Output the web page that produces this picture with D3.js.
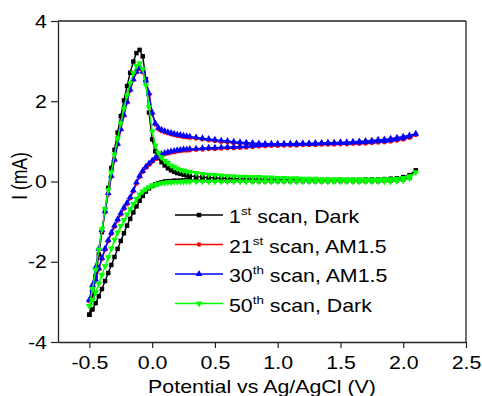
<!DOCTYPE html>
<html>
<head>
<meta charset="utf-8">
<script src="https://cdn.jsdelivr.net/npm/d3@7"></script>
<style>
  html, body { margin: 0; padding: 0; background: #fff; }
  svg { display: block; }
  text { font-family: "Liberation Sans", Arial, Helvetica, sans-serif; fill: #000; }
</style>
</head>
<body>
<svg id="chart" width="482" height="396"></svg>
<script>
// Sweep potentials (V vs Ag/AgCl): anodic sweep, then the return sweep
const potentialFwd = [-0.5,-0.475,-0.45,-0.425,-0.4,-0.375,-0.35,-0.325,-0.3,-0.275,-0.25,-0.225,-0.2,-0.175,-0.15,-0.125,-0.1,-0.075,-0.05,-0.025,0,0.025,0.05,0.075,0.1,0.125,0.15,0.175,0.2,0.225,0.25,0.275,0.3,
  0.35,0.4,0.45,0.5,0.55,0.6,0.65,0.7,0.75,0.8,0.85,0.9,0.95,1.0,1.05,1.1,1.15,1.2,1.25,1.3,1.35,1.4,1.45,1.5,1.55,1.6,1.65,1.7,1.75,1.8,1.85,1.9,1.95,2.0,2.05,2.1];
const potentialRev = [2.05,2.0,1.95,1.9,1.85,1.8,1.75,1.7,1.65,1.6,1.55,1.5,1.45,1.4,1.35,1.3,1.25,1.2,1.15,1.1,1.05,1.0,0.95,0.9,0.85,0.8,0.75,0.7,0.65,0.6,0.55,0.5,0.45,0.4,0.35,
  0.3,0.275,0.25,0.225,0.2,0.175,0.15,0.125,0.1,0.075,0.05,0.025,0,-0.025,-0.05,-0.075,-0.1,-0.125,-0.15,-0.175,-0.2,-0.225,-0.25,-0.275,-0.3,-0.325,-0.35,-0.375,-0.4,-0.425,-0.45,-0.475,-0.5];

// Current (mA) for each scan
const scan1Fwd = [-3.32,-2.86,-2.36,-1.82,-1.26,-0.70,-0.16,0.34,0.79,1.22,1.63,2.02,2.38,2.71,2.99,3.20,3.28,3.12,2.55,1.72,1.05,0.75,0.58,0.48,0.40,0.33,0.28,0.24,0.21,0.19,0.17,0.15,0.14,
  0.12,0.11,0.10,0.09,0.08,0.08,0.07,0.07,0.06,0.06,0.06,0.05,0.05,0.05,0.05,0.05,0.04,0.04,0.04,0.04,0.04,0.04,0.04,0.04,0.04,0.04,0.04,0.05,0.05,0.05,0.06,0.07,0.08,0.11,0.16,0.28];
const scan1Rev = [0.10,0.05,0.03,0.02,0.02,0.01,0.01,0.01,0.01,0.01,0.01,0.01,0.01,0.01,0.01,0.01,0.01,0.01,0.01,0.01,0.01,0.01,0.01,0.01,0.01,0.01,0.02,0.02,0.02,0.02,0.02,0.02,0.02,0.03,0.03,
  0.03,0.03,0.03,0.02,0.02,0.02,0.01,0.01,0.0,-0.02,-0.04,-0.07,-0.11,-0.17,-0.25,-0.36,-0.48,-0.62,-0.77,-0.93,-1.10,-1.29,-1.48,-1.68,-1.88,-2.08,-2.28,-2.48,-2.68,-2.86,-3.03,-3.19,-3.32];

const scan21Fwd = [-2.98,-2.60,-2.16,-1.70,-1.23,-0.76,-0.31,0.12,0.53,0.92,1.29,1.64,1.97,2.27,2.53,2.72,2.81,2.72,2.50,2.17,1.69,1.42,1.31,1.26,1.23,1.20,1.18,1.16,1.14,1.13,1.11,1.10,1.09,
  1.07,1.05,1.03,1.01,0.99,0.98,0.96,0.95,0.94,0.93,0.92,0.91,0.91,0.91,0.91,0.91,0.92,0.92,0.92,0.93,0.93,0.94,0.94,0.95,0.95,0.96,0.97,0.98,0.99,1.01,1.02,1.04,1.06,1.09,1.12,1.16];
const scan21Rev = [1.09,1.05,1.02,1.00,0.98,0.97,0.96,0.95,0.94,0.94,0.93,0.93,0.92,0.92,0.92,0.91,0.91,0.91,0.90,0.90,0.90,0.89,0.89,0.88,0.87,0.86,0.85,0.84,0.83,0.83,0.82,0.81,0.81,0.80,0.79,
  0.78,0.77,0.77,0.76,0.75,0.73,0.72,0.70,0.68,0.65,0.61,0.56,0.49,0.42,0.34,0.24,0.11,-0.05,-0.25,-0.42,-0.56,-0.68,-0.82,-0.97,-1.13,-1.30,-1.49,-1.70,-1.93,-2.19,-2.47,-2.73,-2.98];

const scan30Fwd = [-2.95,-2.58,-2.14,-1.68,-1.21,-0.74,-0.29,0.14,0.55,0.94,1.31,1.66,1.99,2.29,2.55,2.74,2.83,2.74,2.52,2.20,1.72,1.45,1.34,1.29,1.26,1.23,1.21,1.19,1.17,1.16,1.14,1.13,1.12,
  1.10,1.08,1.06,1.04,1.02,1.01,0.99,0.98,0.97,0.96,0.95,0.94,0.94,0.94,0.94,0.94,0.95,0.95,0.95,0.96,0.96,0.97,0.97,0.98,0.98,0.99,1.00,1.01,1.02,1.04,1.05,1.07,1.09,1.12,1.15,1.19];
const scan30Rev = [1.12,1.08,1.05,1.03,1.01,1.00,0.99,0.98,0.97,0.97,0.96,0.96,0.95,0.95,0.95,0.94,0.94,0.94,0.93,0.93,0.93,0.92,0.92,0.91,0.90,0.89,0.88,0.87,0.86,0.86,0.85,0.84,0.84,0.83,0.82,
  0.81,0.80,0.80,0.79,0.78,0.76,0.75,0.73,0.71,0.68,0.64,0.59,0.52,0.45,0.37,0.27,0.14,-0.02,-0.22,-0.39,-0.53,-0.65,-0.79,-0.94,-1.10,-1.27,-1.46,-1.67,-1.90,-2.16,-2.44,-2.70,-2.95];

const scan50Fwd = [-3.10,-2.68,-2.20,-1.70,-1.19,-0.69,-0.21,0.24,0.67,1.07,1.45,1.82,2.15,2.45,2.70,2.88,2.95,2.80,2.40,1.85,1.25,0.90,0.72,0.60,0.52,0.46,0.40,0.36,0.32,0.29,0.27,0.25,0.24,
  0.21,0.19,0.17,0.16,0.15,0.14,0.13,0.12,0.12,0.11,0.11,0.10,0.10,0.09,0.09,0.08,0.08,0.07,0.07,0.07,0.06,0.06,0.06,0.06,0.05,0.05,0.05,0.05,0.05,0.05,0.06,0.06,0.07,0.09,0.13,0.23];
const scan50Rev = [0.08,0.03,0.01,0.0,0.0,0.0,0.0,0.0,0.0,0.0,0.0,0.0,0.0,0.0,0.0,0.0,0.0,0.0,0.0,0.0,0.0,0.0,0.0,0.0,0.0,0.0,0.0,0.0,0.0,0.0,0.0,0.0,0.0,0.0,0.0,
  0.0,0.0,0.0,-0.01,-0.01,-0.01,-0.02,-0.02,-0.03,-0.04,-0.06,-0.08,-0.10,-0.14,-0.19,-0.25,-0.32,-0.43,-0.56,-0.69,-0.82,-0.96,-1.11,-1.27,-1.45,-1.67,-1.89,-2.11,-2.33,-2.55,-2.76,-2.95,-3.10];

const xTicks = [-0.5, 0.0, 0.5, 1.0, 1.5, 2.0, 2.5];
const yTicks = [-4, -2, 0, 2, 4];

// Legend text: [number, ordinal suffix, remainder]
const seriesInfo = [
  { num: "1",  sup: "st", rest: " scan, Dark",   color: "#000000", symbol: "square",   fwd: scan1Fwd,  rev: scan1Rev },
  { num: "21", sup: "st", rest: " scan, AM1.5",  color: "#ff0000", symbol: "circle",   fwd: scan21Fwd, rev: scan21Rev },
  { num: "30", sup: "th", rest: " scan, AM1.5",  color: "#0000ff", symbol: "triangle", fwd: scan30Fwd, rev: scan30Rev },
  { num: "50", sup: "th", rest: " scan, Dark",   color: "#00ff00", symbol: "down",     fwd: scan50Fwd, rev: scan50Rev }
];

const svg = d3.select("#chart");
const plotLeft = 58, plotRight = 466, plotTop = 21, plotBottom = 342;
const stretch = "scale(1.22,1)";
const fontSize = "17.5px";
const axisColor = "#222";

const x = d3.scaleLinear().domain([-0.75, 2.5]).range([plotLeft, plotRight]);
const y = d3.scaleLinear().domain([-4, 4]).range([plotBottom, plotTop]);

function symbolPath(kind) {
  if (kind === "square") return d3.symbol(d3.symbolSquare, 20)();
  if (kind === "circle") return d3.symbol(d3.symbolCircle, 16)();
  return d3.symbol(d3.symbolTriangle, 20)();
}
function symbolTransform(kind) {
  return kind === "down" ? " rotate(180)" : "";
}

// Curves: anodic sweep followed by the return sweep
const line = d3.line().x(d => x(d[0])).y(d => y(d[1]));
const plot = svg.append("g");
seriesInfo.forEach(s => {
  const pts = potentialFwd.map((e, i) => [e, s.fwd[i]])
    .concat(potentialRev.map((e, i) => [e, s.rev[i]]));
  const g = plot.append("g");
  g.append("path")
    .attr("d", line(pts))
    .attr("fill", "none")
    .attr("stroke", s.color)
    .attr("stroke-width", 1.4);
  const p = symbolPath(s.symbol);
  g.selectAll("path.m")
    .data(pts)
    .join("path")
    .attr("class", "m")
    .attr("d", p)
    .attr("transform", d => `translate(${x(d[0])},${y(d[1])})` + symbolTransform(s.symbol))
    .attr("fill", s.color);
});

// Axes
const xAxis = d3.axisBottom(x).tickValues(xTicks).tickSize(6).tickSizeOuter(0)
  .tickFormat(d => d.toFixed(1));
const gx = svg.append("g").attr("transform", `translate(0,${plotBottom})`).call(xAxis);
gx.selectAll("text")
  .attr("y", 0).attr("dy", null)
  .attr("transform", "translate(0,26.5) " + stretch)
  .style("font-size", fontSize);

const yAxis = d3.axisLeft(y).tickValues(yTicks).tickSize(7).tickSizeOuter(0)
  .tickFormat(d => String(d));
const gy = svg.append("g").attr("transform", `translate(${plotLeft},0)`).call(yAxis);
gy.selectAll("text")
  .attr("x", 0).attr("dy", "0.35em")
  .attr("transform", "translate(-11,0) " + stretch)
  .style("font-size", fontSize);

[gx, gy].forEach(g => {
  g.select(".domain").attr("stroke", axisColor).attr("stroke-width", 1.3);
  g.selectAll(".tick line").attr("stroke", axisColor).attr("stroke-width", 1.2);
  g.attr("font-family", null).attr("font-size", null);
});

// Top and right frame lines
svg.append("line").attr("x1", plotLeft).attr("x2", plotRight).attr("y1", plotTop).attr("y2", plotTop)
  .attr("stroke", axisColor).attr("stroke-width", 1.3);
svg.append("line").attr("x1", plotRight).attr("x2", plotRight).attr("y1", plotTop).attr("y2", plotBottom)
  .attr("stroke", axisColor).attr("stroke-width", 1.3);

// Axis titles
svg.append("text")
  .attr("transform", `translate(${(plotLeft + plotRight) / 2},392.5) ` + stretch)
  .attr("text-anchor", "middle")
  .style("font-size", fontSize)
  .text("Potential vs Ag/AgCl (V)");
svg.append("text")
  .attr("transform", `translate(27,176) ${stretch} rotate(-90)`)
  .attr("text-anchor", "middle")
  .style("font-size", fontSize)
  .text("I (mA)");

// Legend
const legend = svg.append("g");
seriesInfo.forEach((s, i) => {
  const ly = 215 + i * 29.5;
  legend.append("line").attr("x1", 175).attr("x2", 223).attr("y1", ly).attr("y2", ly)
    .attr("stroke", s.color).attr("stroke-width", 1.4);
  legend.append("path").attr("d", symbolPath(s.symbol))
    .attr("transform", `translate(199,${ly})` + symbolTransform(s.symbol))
    .attr("fill", s.color);
  const t = legend.append("text")
    .attr("transform", `translate(229,${ly + 8}) ` + stretch)
    .style("font-size", fontSize);
  t.append("tspan").text(s.num);
  t.append("tspan").attr("dy", -8).style("font-size", "11px").text(s.sup);
  t.append("tspan").attr("dy", 8).text(s.rest);
});
</script>
</body>
</html>
